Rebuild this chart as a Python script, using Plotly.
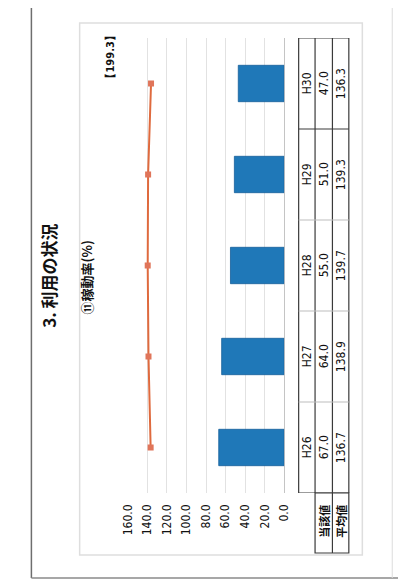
import plotly.graph_objects as go

# ---- data ----
categories = ["H26", "H27", "H28", "H29", "H30"]
current_values = [67.0, 64.0, 55.0, 51.0, 47.0]      # 当該値
average_values = [136.7, 138.9, 139.7, 139.3, 136.3]  # 平均値
tick_values = [0, 20, 40, 60, 80, 100, 120, 140, 160]
tick_labels = ["0.0", "20.0", "40.0", "60.0", "80.0", "100.0", "120.0", "140.0", "160.0"]
row_labels = ["当該値", "平均値"]
title_text = "3. 利用の状況"
subtitle_text = "⑪稼動率(%)"
note_text = "【199.3】"

# the page body has an 8px margin, so the figure is 8px smaller and all
# pixel positions below are given in window coordinates
OFF = 8
W, H = 406 - OFF, 583 - OFF


def px(x):
    return (x - OFF) / W


def py(y):
    return 1 - (y - OFF) / H


NUM_FONT = "Liberation Sans Narrow, DejaVu Sans Condensed, Arial Narrow, sans-serif"
JP_FONT = "Noto Sans CJK JP, sans-serif"

fig = go.Figure()

fig.add_trace(go.Bar(
    x=current_values, y=categories, orientation="h", width=0.4,
    marker=dict(color="#1f78b8", line=dict(color="#16609a", width=0.8)),
    showlegend=False, hoverinfo="x+y",
))
fig.add_trace(go.Scatter(
    x=average_values, y=categories, mode="lines+markers",
    line=dict(color="#df6a3e", width=2),
    marker=dict(symbol="square", size=6, color="#e0755a"),
    showlegend=False,
))

fig.update_layout(
    width=W, height=H,
    margin=dict(l=0, r=0, t=0, b=0),
    paper_bgcolor="white", plot_bgcolor="white",
    xaxis=dict(
        domain=[px(125), px(287)], range=[160, 0],
        tickvals=tick_values, ticktext=tick_labels, tickangle=-90,
        tickfont=dict(family=NUM_FONT, size=12, color="#111"),
        showgrid=True, gridcolor="#e2e2e2", gridwidth=1,
        zeroline=True, zerolinecolor="#c4c4c4", zerolinewidth=1,
        showline=False, ticks="", ticklabelstandoff=8, fixedrange=True,
    ),
    yaxis=dict(
        domain=[py(493), py(38)], type="category",
        categoryorder="array", categoryarray=categories,
        range=[-0.5, len(categories) - 0.5],
        showticklabels=False, showgrid=False, zeroline=False, showline=False,
        fixedrange=True,
    ),
)

shapes = []
# page borders
shapes.append(dict(type="line", xref="paper", yref="paper", x0=px(25), x1=px(25), y0=py(8), y1=py(578),
                   line=dict(color="#6e6e6e", width=1.5)))
shapes.append(dict(type="line", xref="paper", yref="paper", x0=px(25), x1=px(406), y0=py(578), y1=py(578),
                   line=dict(color="#8a8a8a", width=1.5)))
shapes.append(dict(type="line", xref="paper", yref="paper", x0=px(399), x1=px(399), y0=py(8), y1=py(578),
                   line=dict(color="#dcdcdc", width=1)))
# chart frame
shapes.append(dict(type="rect", xref="paper", yref="paper", x0=px(75), x1=px(368), y0=py(555), y1=py(23),
                   line=dict(color="#dedede", width=1.5)))

# data table
tx0, tx1, tx2, tx3 = px(302), px(319), px(337), px(354)
n = len(categories)
dark = dict(color="#3a3a3a", width=1.2)
faint = dict(color="#bdbdbd", width=1)
shapes.append(dict(type="rect", xref="paper", yref="y", x0=tx0, x1=tx3, y0=-0.5, y1=n - 0.5, line=dark))
for xx in (tx1, tx2):
    shapes.append(dict(type="line", xref="paper", yref="y", x0=xx, x1=xx, y0=-0.5, y1=n - 0.5, line=dark))
for i in range(1, n):
    shapes.append(dict(type="line", xref="paper", yref="y", x0=tx0, x1=tx3, y0=i - 0.5, y1=i - 0.5,
                       line=dark if i == n - 1 else faint))
shapes.append(dict(type="rect", xref="paper", yref="paper", x0=tx1, x1=tx3, y0=py(553), y1=py(493), line=dark))
shapes.append(dict(type="line", xref="paper", yref="paper", x0=tx2, x1=tx2, y0=py(553), y1=py(493), line=dark))

annotations = []
for cat, cv, av in zip(categories, current_values, average_values):
    for xx, txt in ((px(310.5), cat), (px(328), f"{cv:.1f}"), (px(345.5), f"{av:.1f}")):
        annotations.append(dict(xref="paper", yref="y", x=xx, y=cat, text=txt, showarrow=False,
                                textangle=-90, xanchor="center", yanchor="middle",
                                font=dict(family=NUM_FONT, size=12, color="#111")))
for xx, txt in ((px(328), row_labels[0]), (px(345.5), row_labels[1])):
    annotations.append(dict(xref="paper", yref="paper", x=xx, y=py(521), text=f"<b>{txt}</b>", showarrow=False,
                            textangle=-90, xanchor="center", yanchor="middle",
                            font=dict(family=JP_FONT, size=11, color="#111")))

annotations.append(dict(xref="paper", yref="paper", x=px(42), y=py(276), text=f"<b>{title_text}</b>",
                        showarrow=False, textangle=-90, xanchor="center", yanchor="middle",
                        font=dict(family=JP_FONT, size=17, color="#111")))
annotations.append(dict(xref="paper", yref="paper", x=px(82), y=py(277), text=f"<b>{subtitle_text}</b>",
                        showarrow=False, textangle=-90, xanchor="center", yanchor="middle",
                        font=dict(family=JP_FONT, size=13, color="#111")))
annotations.append(dict(xref="paper", yref="paper", x=px(107), y=py(57), text=f"<b>{note_text}</b>",
                        showarrow=False, textangle=-90, xanchor="center", yanchor="middle",
                        font=dict(family=NUM_FONT, size=11, color="#111")))

fig.update_layout(shapes=shapes, annotations=annotations)

fig.write_html("out.html")
